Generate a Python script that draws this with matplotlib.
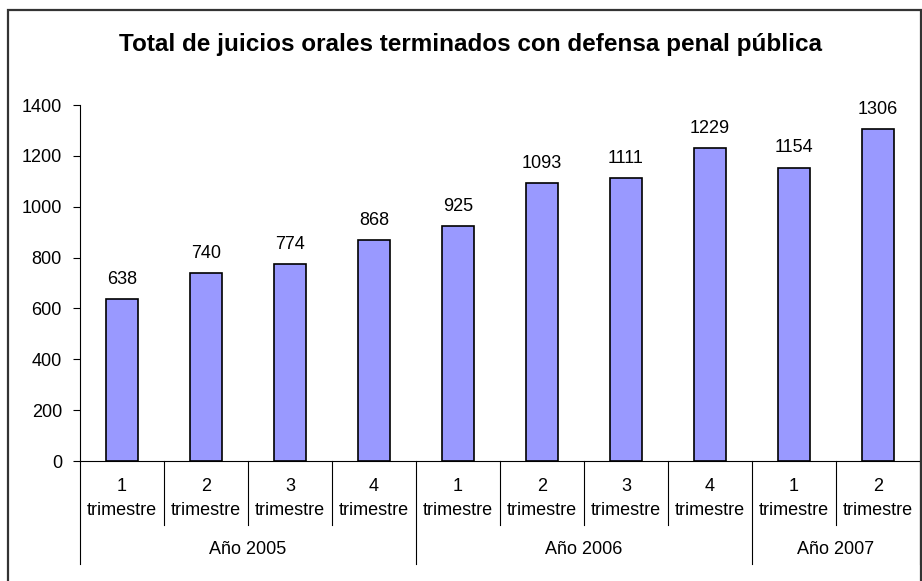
import matplotlib
matplotlib.use("Agg")
import matplotlib.pyplot as plt
import matplotlib.patches as mpatches

plt.rcParams['font.family'] = ['Liberation Sans', 'DejaVu Sans']

quarters = ["1", "2", "3", "4", "1", "2", "3", "4", "1", "2"]
years = ["Año 2005", "Año 2006", "Año 2007"]
year_counts = [4, 4, 2]
juicios = [638, 740, 774, 868, 925, 1093, 1111, 1229, 1154, 1306]
title = "Total de juicios orales terminados con defensa penal pública"

fig = plt.figure(figsize=(9.22, 5.81), dpi=100)
ax = fig.add_axes([80 / 922, 120 / 581, 840 / 922, 356 / 581])

# outer frame of the chart area
frame = mpatches.Rectangle((8 / 922, -0.05), 913 / 922, 1.05 - 10 / 581,
                           transform=fig.transFigure, fill=False,
                           edgecolor='#333333', linewidth=1.6)
fig.patches.append(frame)

xs = list(range(len(juicios)))
ax.bar(xs, juicios, width=0.39, color='#9999FF', edgecolor='black', linewidth=1.2)

for x, v in zip(xs, juicios):
    ax.annotate(str(v), (x, v), xytext=(0, 8), textcoords='offset points',
                ha='center', va='bottom', fontsize=13)

ax.set_xlim(-0.5, len(juicios) - 0.5)
ax.set_ylim(0, 1400)
ax.set_yticks(range(0, 1401, 200))
ax.tick_params(axis='y', labelsize=13, length=5, direction='out', pad=8)
ax.set_xticks([])
for s in ['top', 'right']:
    ax.spines[s].set_visible(False)
ax.spines['left'].set_linewidth(0.8)
ax.spines['bottom'].set_linewidth(0.8)

trans = ax.get_xaxis_transform()
# quarter labels
for x, q in zip(xs, quarters):
    ax.text(x, -0.073, q, transform=trans, ha='center', va='center', fontsize=13)
    ax.text(x, -0.14, "trimestre", transform=trans, ha='center', va='center', fontsize=13)

# separators between categories
year_edges = [-0.5]
for c in year_counts:
    year_edges.append(year_edges[-1] + c)
for b in range(len(juicios) + 1):
    edge = b - 0.5
    low = -0.29 if edge in year_edges else -0.18
    ax.plot([edge, edge], [0, low], transform=trans, color='black',
            linewidth=0.8, clip_on=False)

# year labels
for i, y in enumerate(years):
    mid = (year_edges[i] + year_edges[i + 1]) / 2
    ax.text(mid, -0.25, y, transform=trans, ha='center', va='center', fontsize=13)

fig.text(470 / 922, 1 - 44 / 581, title, ha='center', va='center',
         fontsize=17.5, fontweight='bold')

fig.savefig("out.png", dpi=100)
